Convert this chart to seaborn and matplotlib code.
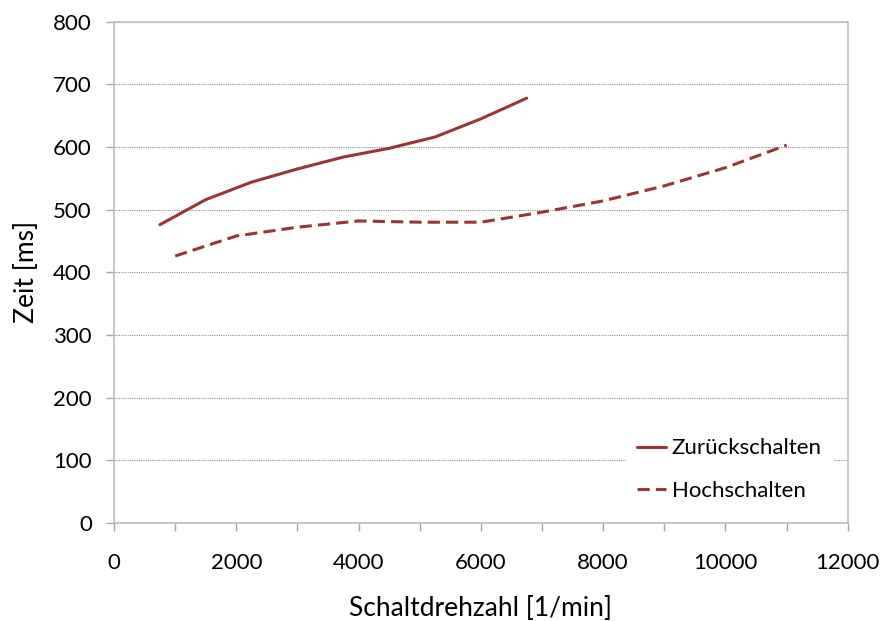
import numpy as np
import pandas as pd
import matplotlib
matplotlib.use("Agg")
import matplotlib.pyplot as plt
import seaborn as sns
from matplotlib.ticker import MultipleLocator

# Data
x_zurueck = [750, 1500, 2250, 3000, 3750, 4500, 5250, 6000, 6750]
y_zurueck = [476, 516, 544, 565, 584, 598, 616, 645, 678]
x_hoch = [1000, 2000, 3000, 4000, 5000, 6000, 7000, 8000, 9000, 10000, 11000]
y_hoch = [426, 458, 472, 482, 480, 480, 496, 514, 538, 567, 603]
series_names = ["Zurückschalten", "Hochschalten"]

df = pd.concat([
    pd.DataFrame({"x": x_zurueck, "y": y_zurueck, "Serie": series_names[0]}),
    pd.DataFrame({"x": x_hoch, "y": y_hoch, "Serie": series_names[1]}),
], ignore_index=True)

sns.set_theme(style="white")
plt.rcParams["font.family"] = ["Lato", "DejaVu Sans"]
plt.rcParams["text.color"] = "black"
plt.rcParams["axes.labelcolor"] = "black"

fig = plt.figure(figsize=(8.84, 6.21), dpi=100)
ax = fig.add_axes([0.129, 0.158, 0.830, 0.807])

color = "#953735"
sns.lineplot(data=df, x="x", y="y", style="Serie", style_order=series_names,
             dashes={series_names[0]: "", series_names[1]: (4, 2)},
             color=color, linewidth=2.2, ax=ax, sort=False, estimator=None)

ax.set_xlim(0, 12000)
ax.set_ylim(0, 800)
ax.xaxis.set_major_locator(MultipleLocator(2000))
ax.xaxis.set_minor_locator(MultipleLocator(1000))
ax.yaxis.set_major_locator(MultipleLocator(100))

ax.grid(axis="y", which="major", color="#8c8c8c", linestyle=(0, (1, 1)), linewidth=0.8)
ax.grid(axis="x", visible=False)

for side in ["left", "bottom", "top", "right"]:
    ax.spines[side].set_visible(True)
    ax.spines[side].set_color("#bdbdbd")
    ax.spines[side].set_linewidth(1.2)

ax.tick_params(axis="both", which="both", direction="out", colors="#a6a6a6",
               labelcolor="black", labelsize=16)
ax.tick_params(axis="x", which="major", length=6, width=1, pad=16)
ax.tick_params(axis="x", which="minor", length=6, width=1)
ax.tick_params(axis="y", which="major", length=6, width=1, pad=10)
ax.tick_params(axis="y", which="major", left=True)
ax.tick_params(axis="x", which="both", bottom=True)

ax.set_xlabel("Schaltdrehzahl [1/min]", fontsize=19, labelpad=16, color="black")
ax.set_ylabel("Zeit [ms]", fontsize=19, labelpad=10, color="black")

leg = ax.legend(loc="lower right", bbox_to_anchor=(0.995, 0.0), frameon=True,
                fontsize=16, handlelength=1.3, handletextpad=0.25,
                labelspacing=1.0, borderpad=0.5)
leg.get_frame().set_facecolor("white")
leg.get_frame().set_edgecolor("white")
leg.get_frame().set_alpha(1.0)
for t in leg.get_texts():
    t.set_color("black")

fig.savefig("out.png", dpi=100)
